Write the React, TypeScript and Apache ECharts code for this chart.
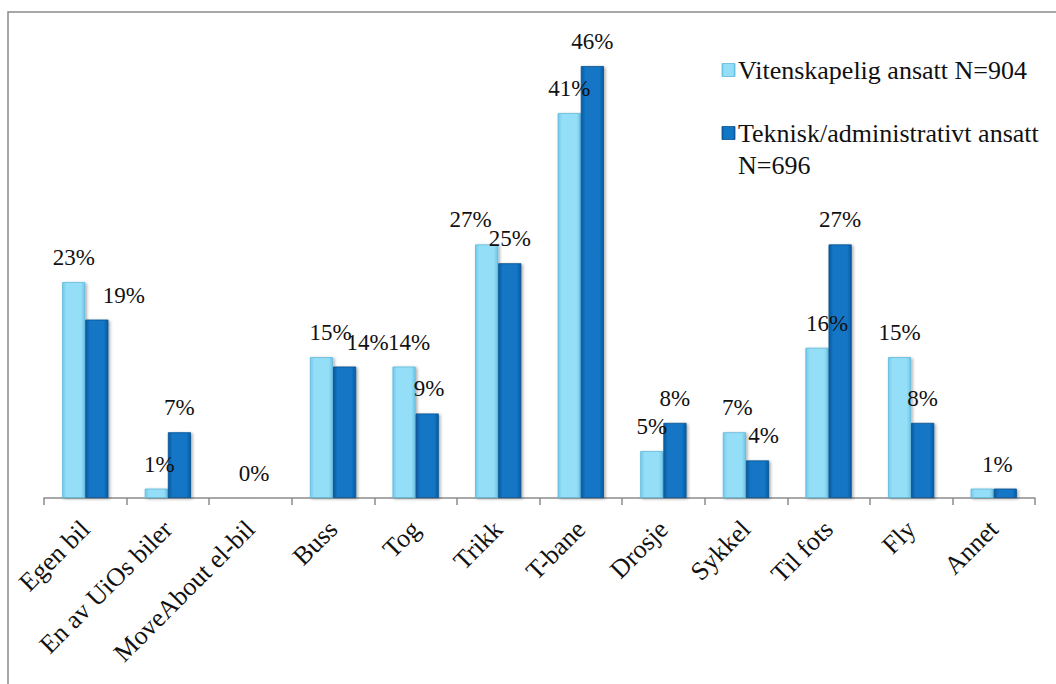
import React, { useEffect, useRef } from "react";
import * as echarts from "echarts";

const categories = [
  "Egen bil",
  "En av UiOs biler",
  "MoveAbout el-bil",
  "Buss",
  "Tog",
  "Trikk",
  "T-bane",
  "Drosje",
  "Sykkel",
  "Til fots",
  "Fly",
  "Annet",
];

const seriesNames = [
  "Vitenskapelig ansatt N=904",
  "Teknisk/administrativt ansatt\nN=696",
];

const vitenskapelig: (number | null)[] = [23, 1, null, 15, 14, 27, 41, 5, 7, 16, 15, 1];
const teknisk: (number | null)[] = [19, 7, 0, 14, 9, 25, 46, 8, 4, 27, 8, 1];

// horizontal nudges of the value labels, so neighbouring labels don't collide
const lightLabelShift = [0, 3, 0, 9, 5, -16, 0, 0, 3, 10, 0, 0];
const darkLabelShift = [27, 0, -8, 23, 2, 0, 0, 0, 6, 0, 0, -8];
// labels left out where two value labels would sit on top of each other
const hiddenLightLabels = ["Annet"];

const FONT = "Liberation Serif";

const lightFill = new echarts.graphic.LinearGradient(0, 0, 1, 0, [
  { offset: 0, color: "#6fcbec" },
  { offset: 0.18, color: "#95def7" },
  { offset: 0.82, color: "#95def7" },
  { offset: 1, color: "#6cc6e8" },
]);
const darkFill = new echarts.graphic.LinearGradient(0, 0, 1, 0, [
  { offset: 0, color: "#0a5a9f" },
  { offset: 0.18, color: "#1276c6" },
  { offset: 0.82, color: "#1276c6" },
  { offset: 1, color: "#0a5a9f" },
]);

export default function App() {
  const ref = useRef<HTMLDivElement>(null);

  useEffect(() => {
    if (!ref.current) return;
    const chart = echarts.init(ref.current, undefined, { renderer: "svg" });

    const labelStyle = {
      show: true,
      position: "top" as const,
      distance: 13,
      formatter: (p: any) => `${p.value}%`,
      fontFamily: FONT,
      fontSize: 23,
      color: "#111",
    };

    const barStyle = (fill: any, border: string) => ({
      color: fill,
      borderColor: border,
      borderWidth: 0.8,
      shadowColor: "rgba(0,0,0,0.35)",
      shadowBlur: 3,
      shadowOffsetX: 1.5,
      shadowOffsetY: 1,
    });

    const withLabels = (
      values: (number | null)[],
      shifts: number[],
      hidden: string[]
    ) =>
      values.map((v, i) => ({
        value: v,
        label: hidden.includes(categories[i])
          ? { show: false }
          : { offset: [shifts[i], 0] },
      }));

    chart.setOption({
      animation: false,
      backgroundColor: "#ffffff",
      textStyle: { fontFamily: FONT },
      grid: { left: 44, right: 21, top: 28.5, bottom: 186, containLabel: false },
      xAxis: {
        type: "category",
        data: categories,
        axisLine: { lineStyle: { color: "#8c8c8c", width: 1.5 } },
        axisTick: { show: true, length: 7, lineStyle: { color: "#8c8c8c", width: 1.5 } },
        axisLabel: {
          rotate: 45,
          interval: 0,
          margin: 27,
          fontFamily: FONT,
          fontSize: 26,
          color: "#111",
        },
      },
      yAxis: { type: "value", min: 0, max: 50, show: false, splitLine: { show: false } },
      series: [
        {
          name: seriesNames[0],
          type: "bar",
          barGap: "0%",
          barCategoryGap: "44%",
          itemStyle: barStyle(lightFill, "#5fb8db"),
          label: labelStyle,
          data: withLabels(vitenskapelig, lightLabelShift, hiddenLightLabels),
        },
        {
          name: seriesNames[1],
          type: "bar",
          barGap: "0%",
          barCategoryGap: "44%",
          itemStyle: barStyle(darkFill, "#08508f"),
          label: labelStyle,
          data: withLabels(teknisk, darkLabelShift, []),
        },
      ],
      graphic: [
        {
          type: "rect",
          shape: { x: 8, y: 12, width: 1100, height: 800 },
          style: { fill: "none", stroke: "#8a8a8a", lineWidth: 1.5 },
          silent: true,
        },
        {
          type: "rect",
          shape: { x: 722, y: 63.5, width: 13, height: 13 },
          style: { fill: lightFill, stroke: "#5fb8db", lineWidth: 0.8 },
        },
        {
          type: "text",
          x: 738,
          y: 70,
          style: {
            text: seriesNames[0],
            fontFamily: FONT,
            fontSize: 26,
            fill: "#111",
            verticalAlign: "middle",
          },
        },
        {
          type: "rect",
          shape: { x: 722, y: 126.5, width: 13, height: 13 },
          style: { fill: darkFill, stroke: "#08508f", lineWidth: 0.8 },
        },
        {
          type: "text",
          x: 738,
          y: 117,
          style: {
            text: seriesNames[1],
            fontFamily: FONT,
            fontSize: 26,
            lineHeight: 32,
            fill: "#111",
            verticalAlign: "top",
          },
        },
      ],
    });

    return () => chart.dispose();
  }, []);

  return (
    <div
      ref={ref}
      style={{ position: "fixed", left: 0, top: 0, width: 1056, height: 684, background: "#fff" }}
    />
  );
}
